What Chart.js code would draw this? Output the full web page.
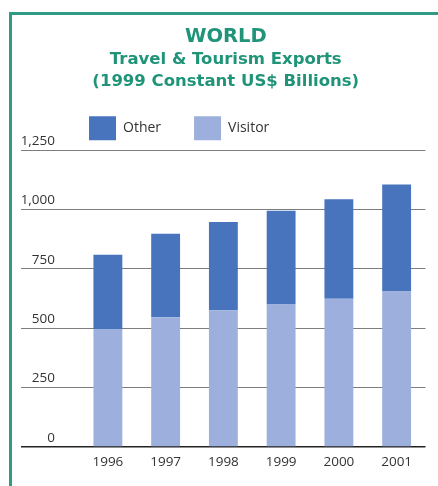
<!DOCTYPE html>
<html>
<head>
<meta charset="utf-8">
<script src="https://cdn.jsdelivr.net/npm/chart.js@4/dist/chart.umd.min.js"></script>
<style>
  html, body { margin: 0; padding: 0; background: #fff; }
  #wrap { position: relative; width: 438px; height: 486px; overflow: hidden; }
  #frame { position: absolute; left: 9px; top: 12px; width: 460px; height: 500px;
           border-left: 3px solid #2f9b83; border-top: 3px solid #2f9b83; box-sizing: border-box; }
  canvas { position: absolute; left: 0; top: 0; }
</style>
</head>
<body>
<div id="wrap">
  <div id="frame"></div>
  <canvas id="c" width="438" height="486"></canvas>
</div>
<script>
const years = ['1996', '1997', '1998', '1999', '2000', '2001'];
const visitor = [497, 546, 576, 600, 624, 655];
const other = [313, 352, 372, 395, 419, 450];
const yTicks = [0, 250, 500, 750, 1000, 1250];

const teal = '#1f9478';
const FONT = "'Open Sans', 'DejaVu Sans', sans-serif";
const TFONT = "'DejaVu Sans', 'Open Sans', sans-serif";

// shift the top boxes (titles and legend) horizontally
const topShift = {
  id: 'topShift',
  afterLayout(chart) {
    chart.boxes.forEach(b => {
      if (b.position === 'top' && !b.isHorizontal || b.position !== 'top') return;
      let dx = 13;
      if (b === chart.legend) dx = 56;
      b.left += dx; b.right += dx;
    });
  }
};

new Chart(document.getElementById('c'), {
  type: 'bar',
  data: {
    labels: years,
    datasets: [
      { label: 'Visitor', data: visitor, backgroundColor: '#9db0dd', borderWidth: 0 },
      { label: 'Other', data: other, backgroundColor: '#4774bd', borderWidth: 0 }
    ]
  },
  options: {
    responsive: false,
    animation: false,
    layout: { padding: { left: 0, right: 12.5, top: 0, bottom: 8.8 } },
    datasets: { bar: { categoryPercentage: 1.0, barPercentage: 0.5 } },
    plugins: {
      title: {
        display: true, text: 'WORLD', color: teal,
        font: { family: TFONT, size: 19.5, weight: 'bold', lineHeight: 1.2 },
        padding: { top: 25, bottom: 0 }
      },
      subtitle: {
        display: true,
        text: ['Travel & Tourism Exports', '(1999 Constant US$ Billions)'],
        color: teal,
        font: { family: TFONT, size: 16.5, weight: 'bold', lineHeight: 1.333 },
        padding: { top: 0.6, bottom: -9.8 }
      },
      legend: {
        display: true, position: 'top', align: 'start', reverse: true,
        maxHeight: 70.5,
        labels: {
          boxWidth: 27, boxHeight: 24, padding: 33, color: '#333',
          font: { family: FONT, size: 14 }
        }
      },
      tooltip: { enabled: false }
    },
    scales: {
      x: {
        stacked: true,
        grid: { display: false, drawTicks: false },
        border: { display: false },
        ticks: { color: '#333', padding: 7, font: { family: FONT, size: 13.5 } }
      },
      y: {
        stacked: true,
        min: 0, max: 1250,
        afterBuildTicks(scale) { scale.ticks = yTicks.map(v => ({ value: v })); },
        afterFit(scale) { scale.width = 79; },
        border: { display: false },
        grid: {
          drawTicks: true, tickLength: 58,
          color: ctx => (ctx.tick && ctx.tick.value === 0) ? '#222' : '#7d7d7d',
          lineWidth: ctx => (ctx.tick && ctx.tick.value === 0) ? 1.6 : 1
        },
        ticks: {
          color: '#333', padding: -34, labelOffset: -9,
          font: { family: FONT, size: 13.5 },
          callback: v => v.toLocaleString('en-US')
        }
      }
    }
  },
  plugins: [topShift]
});
</script>
</body>
</html>
